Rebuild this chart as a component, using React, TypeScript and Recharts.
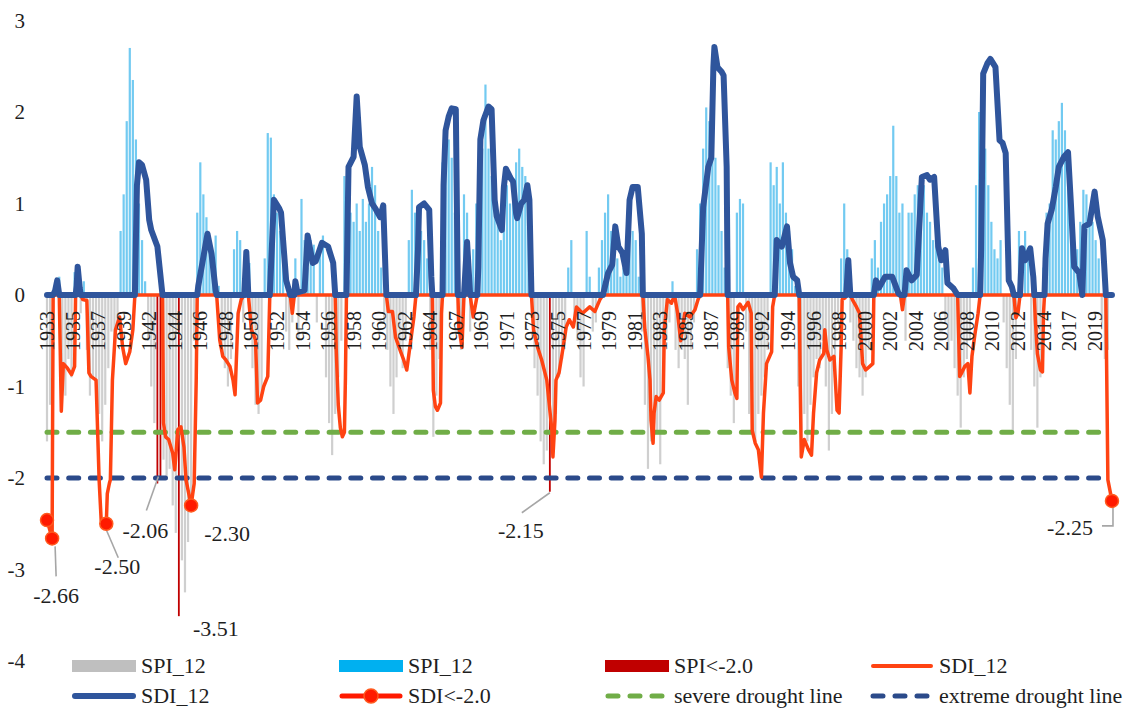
import React from "react";
import {
  ComposedChart,
  Bar,
  Cell,
  Line,
  Scatter,
  XAxis,
  YAxis,
  ReferenceLine,
} from "recharts";

// x axis runs in months from the first tick (1933), one label every 25 months
const yearLabels = [
  "1933", "1935", "1937", "1939", "1942", "1944", "1946", "1948", "1950", "1952",
  "1954", "1956", "1958", "1960", "1962", "1964", "1967", "1969", "1971", "1973",
  "1975", "1977", "1979", "1981", "1983", "1985", "1987", "1989", "1992", "1994",
  "1996", "1998", "2000", "2002", "2004", "2006", "2008", "2010", "2012", "2014",
  "2017", "2019",
];
const yTicks = [-4, -3, -2, -1, 0, 1, 2, 3];

// SPI_12, one value every 3 months
const spiValues = [
  -1.6, -1.2, -0.5, 0.15, 0.2, -0.9, -1.1, -0.7, -0.9, 0.25,
  0.3, -0.2, 0.15, -0.6, -1.1, -0.9, -1.0, -1.3, -1.6, -1.2,
  -0.8, -0.4, -0.6, -0.3, 0.7, 1.1, 1.9, 2.7, 2.35, 1.7,
  1.0, 0.6, 0.15, -0.5, -1.0, -1.4, -2.06, -2.02, -1.8, -2.0,
  -1.9, -2.3, -2.6, -3.51, -2.9, -3.25, -2.7, -2.2, -0.5, 0.9,
  1.45, 1.1, 0.85, 0.5, 0.4, 0.65, 0.1, -0.6, -0.8, -1.0,
  -0.7, 0.5, 0.7, 0.6, -0.3, 0.5, 0.35, -0.8, -1.2, -1.3,
  -1.1, 0.4, 1.77, 1.72, 1.1, 0.9, 0.7, 0.5, -0.4, -0.6,
  -0.3, 0.4, -0.5, 1.05, 0.6, 0.3, 0.6, 0.55, -0.3, 0.5,
  0.65, -0.9, -1.4, -1.75, -1.3, -0.9, -0.5, 1.3, 1.35, 0.9,
  0.8, 1.0, 0.7, 1.05, 0.8, 1.0, 1.4, 1.2, 0.7, 0.3,
  -0.3, -0.6, -1.0, -1.3, -0.9, -0.6, -0.8, -0.5, 0.6, 1.15,
  0.9, 0.5, 0.7, 0.6, 0.4, -0.6, -1.55, -1.1, -0.7, 1.45,
  1.6, 1.7, 1.5, 0.9, -0.4, -0.6, 1.1, 0.9, -0.4, 0.5,
  1.0, 1.3, 1.6, 2.3, 1.6, 1.3, 1.0, 0.8, 0.6, 0.9,
  1.2, 1.0, 1.2, 1.45, 1.6, 1.4, 1.3, 1.0, 0.3, -0.8,
  -1.1, -1.6, -1.85, -1.7, -2.15, -1.6, -1.3, -0.9, -0.7, -0.5,
  0.3, 0.6, -0.3, -0.5, -0.9, -1.0, 0.7, 0.2, -0.4, -0.3,
  0.3, 0.6, 0.9, 1.1, 0.7, 0.5, 0.4, 0.2, 0.3, 0.5,
  0.8, 0.7, 0.6, 0.2, -0.4, -1.2, -1.9, -1.6, -1.4, -1.5,
  -1.85, -1.0, -0.5, -0.3, 0.15, -0.6, -0.8, -0.6, -0.7, -1.2,
  -0.6, -0.3, 0.5, 1.0, 1.6, 2.05, 1.9, 1.7, 1.5, 1.2,
  0.7, 0.3, -0.8, -1.1, -1.4, 0.9, 1.05, 1.0, -0.4, -1.3,
  -1.5, -1.6, -1.3, -1.1, -0.9, -0.6, 1.45, 1.2, 1.4, 1.0,
  1.45, 0.9, 0.7, 0.5, 0.1, -1.0, -1.5, -1.3, -1.6, -1.2,
  -0.9, -0.7, -0.8, -0.5, -1.0, -1.7, -1.3, -0.9, -0.3, 0.4,
  1.0, 0.5, -0.3, -0.5, -0.8, -0.9, -1.1, -0.9, -0.6, 0.4,
  0.6, 0.3, 0.8, 1.0, 1.1, 1.3, 1.85, 1.3, 0.9, 1.0,
  -0.5, 0.9, 0.9, 1.1, 1.2, 1.3, 1.2, 0.9, 0.8, 0.6,
  0.7, 0.5, 0.3, -0.3, -0.6, -0.5, -0.8, -1.1, -1.45, -0.9,
  -0.7, -0.5, 0.3, 1.2, 2.0, 1.9, 1.6, 1.2, 0.8, 0.5,
  0.4, 0.6, -0.3, -0.8, -1.2, -1.5, -0.7, 0.7, 0.5, 0.7,
  0.4, -0.6, -1.0, -1.45, -0.9, 0.3, 0.9, 1.0, 1.8, 1.7,
  1.9, 2.1, 1.8, 1.3, 0.6, 0.3, 0.5, 0.8, 1.15, 1.1,
  0.9, 0.8, 0.6, 0.4, -0.3, -0.7, -0.6,
];
// months whose SPI is drawn as "SPI<-2.0"
const spiExtremeMonths = [108, 111, 129, 492];
const spiLabelledMonths = [108, 129, 492];

// SDI_12 as [month, value]
const sdiPoints: [number, number][] = [
  [0, -2.46], [5, -2.66], [6, 0], [8, 0.05], [10, 0.16], [12, 0],
  [14, -1.27], [16, -0.75], [20, -0.8], [24, -0.87], [27, -0.78], [28, 0],
  [29, 0.1], [30, 0.31], [32, 0.08], [33, 0],
  [35, -0.05], [39, -0.06], [41, -0.85], [43, -0.89], [48, -0.93], [51, -2.02], [53, -2.46],
  [58, -2.5], [59, -2.17], [61, -2.06], [62, -2.02], [64, -0.93], [67, -0.38], [71, -0.24],
  [74, -0.57], [77, -0.75], [81, -0.62], [84, -0.38], [86, 0],
  [88, 1.2], [90, 1.45], [93, 1.42], [97, 1.26], [100, 0.82], [102, 0.71], [105, 0.62], [108, 0.53], [113, 0],
  [114, -1.4], [116, -1.55], [119, -1.58], [123, -1.73], [125, -1.91], [128, -1.47], [131, -1.44],
  [134, -1.66], [136, -2.02], [141, -2.3], [144, -2.06], [146, -0.93], [147, 0],
  [148, 0.1], [152, 0.35], [157, 0.67], [161, 0.45], [165, 0.05], [166, 0],
  [169, -0.49], [172, -0.67], [175, -0.71], [179, -0.78], [182, -0.93], [184, -1.09], [187, -0.2], [190, -0.05], [193, 0],
  [195, 0.47], [197, 0],
  [200, -0.38], [204, -0.49], [206, -1.18], [209, -1.15], [212, -1.0], [216, -0.89], [218, 0],
  [222, 1.04], [227, 0.95], [229, 0.9], [231, 0.6], [234, 0.16], [238, 0],
  [240, -0.2], [242, 0],
  [243, 0.15], [245, 0.03], [252, 0.05], [255, 0.65], [260, 0.35], [263, 0.37], [269, 0.57], [275, 0.53], [280, 0.35], [282, 0],
  [283, -0.6], [285, -1.2], [287, -1.45], [289, -1.55], [291, -1.5], [292, -0.9], [293, 0],
  [295, 1.4], [300, 1.51], [303, 2.17], [306, 1.62], [311, 1.42], [314, 1.18], [318, 1.0], [321, 0.95], [326, 0.85], [329, 0.98], [332, 0],
  [334, -0.18], [338, -0.18], [341, -0.46], [346, -0.62], [349, -0.71], [352, -0.82], [355, -0.57], [359, -0.24], [361, 0],
  [363, 0.5], [364, 0.96], [369, 1.0], [374, 0.93], [376, 0.2], [377, 0],
  [378, -1.04], [380, -1.22], [382, -1.26], [385, -1.18], [386, -0.2], [387, 0],
  [388, 1.2], [390, 1.8], [393, 1.95], [396, 2.04], [400, 2.03], [402, 0],
  [403, -0.35], [406, -0.57], [408, 0],
  [411, 0.58], [414, 0],
  [417, -0.24], [421, 0],
  [422, 0.3], [424, 1.7], [427, 1.91], [432, 2.06], [435, 2.03], [438, 1.04], [440, 0.86], [445, 0.71], [447, 1.18],
  [449, 1.38], [454, 1.27], [456, 1.24], [459, 0.89], [460, 0.84], [464, 1.0], [467, 1.04], [470, 1.2], [472, 1.04], [474, 0],
  [476, -0.38], [480, -0.57], [484, -0.71], [489, -0.93], [494, -1.48], [495, -1.77], [497, -1.37], [498, -0.93],
  [501, -0.85], [505, -0.57], [508, -0.35], [511, -0.27], [515, -0.35], [518, -0.13], [524, -0.2], [531, -0.13],
  [536, -0.18], [541, -0.05], [544, 0],
  [549, 0.24], [553, 0.33], [556, 0.75], [559, 0.53], [563, 0.46], [567, 0.24], [570, 1.04], [573, 1.18], [578, 1.18], [582, 0.67], [583, 0],
  [585, -0.38], [588, -0.67], [590, -0.93], [591, -1.37], [593, -1.62], [594, -1.29], [596, -1.11], [599, -1.15],
  [603, -1.07], [604, -0.38], [607, -0.05], [611, -0.09], [614, 0], [617, -0.2], [620, -0.5], [624, -0.2],
  [629, -0.24], [634, -0.16], [637, -0.05], [639, 0],
  [642, 0.96], [647, 1.4], [650, 1.5], [652, 2.49], [653, 2.71], [656, 2.49], [660, 2.44], [662, 2.4], [665, 1.4], [666, 0],
  [667, -0.57], [670, -0.93], [673, -1.07], [675, -1.13], [676, -0.13], [678, -0.1], [681, -0.16], [686, -0.08],
  [689, -0.2], [690, -1.48], [693, -1.62], [696, -1.69], [699, -1.99], [701, -1.29], [704, -0.75], [709, -0.62], [710, -0.13], [712, 0],
  [714, 0.6], [719, 0.53], [724, 0.75], [727, 0.35], [730, 0.2], [734, 0.16], [736, 0],
  [737, -1.0], [738, -1.77], [741, -1.58], [745, -1.69], [748, -1.75], [750, -1.29], [753, -0.85], [756, -0.71],
  [760, -0.64], [761, -0.38], [763, -0.6], [766, -0.71], [770, -0.67], [773, -1.26], [775, -1.29], [777, -0.57],
  [778, -0.05], [781, -0.03], [782, 0],
  [784, 0.38], [786, 0],
  [788, -0.05], [792, -0.13], [795, -0.2], [798, -0.75], [801, -0.82], [805, -0.78], [808, -0.75], [809, 0],
  [811, 0.16], [814, 0.08], [820, 0.2], [827, 0.2], [833, 0.02], [835, 0],
  [837, -0.16], [839, 0],
  [841, 0.27], [846, 0.16], [851, 0.22], [856, 1.29], [861, 1.31], [864, 1.26], [868, 1.29], [872, 0.53],
  [875, 0.38], [879, 0.49], [881, 0.13], [887, 0.07], [891, 0],
  [893, -0.89], [895, -0.85], [898, -0.78], [901, -0.75], [903, -1.07], [905, -0.67], [908, -0.42], [911, -0.2], [913, 0],
  [914, 0.5], [916, 2.42], [920, 2.53], [923, 2.58], [928, 2.49], [932, 1.69], [935, 1.66], [938, 1.55], [941, 0.16], [944, 0.09], [946, 0],
  [948, -0.25], [950, -0.2], [952, 0],
  [954, 0.51], [957, 0.38], [962, 0.51], [965, 0.2], [966, 0],
  [967, -0.27], [969, -0.64], [972, -0.82], [974, -0.84], [975, -0.2], [976, 0],
  [977, 0.4], [979, 0.78], [983, 0.93], [987, 1.18], [990, 1.4], [995, 1.51], [999, 1.56], [1002, 0.96],
  [1005, 0.31], [1010, 0.24], [1013, 0], [1015, 0.75], [1020, 0.78], [1025, 1.13], [1028, 0.86], [1033, 0.6], [1036, 0],
  [1038, -2.02], [1042, -2.25],
];
// SDI<-2.0 points
const sdiExtremes: [number, number][] = [
  [0, -2.46], [5, -2.66], [58, -2.5], [141, -2.3], [1042, -2.25],
];
const sdiLabelledMonths = [5, 58, 141, 1042];

const severeLevel = -1.5;
const extremeLevel = -2;

const FONT = '"Liberation Serif", "Times New Roman", Times, "DejaVu Serif", serif';
const TEXT = "#1f1f1f";
const C = {
  spiNeg: "#cfcfcf",
  spiPos: "#72caf1",
  spiExt: "#c00000",
  sdiNeg: "#ff4312",
  sdiPos: "#2f559c",
  dot: "#ff1a00",
  dotEdge: "#ff5a1f",
  severe: "#70ad47",
  extreme: "#2b4a8a",
  leader: "#a6a6a6",
};

// chart geometry
const W = 1131;
const H = 709;
const M = { top: 20.5, right: 18, bottom: 47, left: 0 };
const X_AXIS_H = 1;
const plotH = H - M.top - M.bottom - X_AXIS_H;
const zeroY = M.top + (plotH * 3) / 7;
const SPI_BAR_W = 2.2;
const SPI_EXT_W = 1.8;

// callout text / leader offsets (px, relative to the marked point)
const callouts: Record<number, { dx: number; dy: number; leader?: [number, number][] }> = {
  5: { dx: 4, dy: 57, leader: [[3, 8], [4, 38]] },
  58: { dx: 11, dy: 43, leader: [[0, 6], [12, 34]] },
  141: { dx: 36, dy: 28 },
  1042: { dx: -42, dy: 27, leader: [[1, 6], [1, 25], [-10, 25]] },
  108: { dx: -12, dy: 47, leader: [[1, -7], [-11, 27]] },
  129: { dx: 37, dy: 12 },
  492: { dx: -29, dy: 39, leader: [[0, 1], [-28, 21]] },
};

const spiData = spiValues.map((v, i) => ({ m: i * 3, spi: v }));
const sdiData = sdiPoints.map(([m, v]) => ({ m, pos: Math.max(v, 0), neg: Math.min(v, 0) }));
const sdiDotData = sdiExtremes.map(([m, v]) => ({ m, v }));
const spiLabelData = spiData
  .filter((d) => spiLabelledMonths.includes(d.m))
  .map((d) => ({ m: d.m, v: d.spi }));

// the x axis also carries the monthly SDI points, so Recharts' band is one month wide;
// draw each quarterly SPI bar at a fixed width around its own position
const SpiBar = (props: any) => {
  const { x, y, width, height, fill, payload } = props;
  if (!height) return null;
  const w = spiExtremeMonths.includes(payload.m) ? SPI_EXT_W : SPI_BAR_W;
  const cx = x + width / 2;
  const top = height < 0 ? y + height : y;
  return <rect x={cx - w / 2} y={top} width={w} height={Math.abs(height)} fill={fill} />;
};

function Callout({ cx, cy, m, v }: { cx: number; cy: number; m: number; v: number }) {
  const s = callouts[m];
  if (!s) return null;
  return (
    <g>
      {s.leader && (
        <polyline
          points={s.leader.map(([a, b]) => `${cx + a},${cy + b}`).join(" ")}
          fill="none"
          stroke={C.leader}
          strokeWidth={1.6}
        />
      )}
      <text
        x={cx + s.dx}
        y={cy + s.dy}
        textAnchor="middle"
        dominantBaseline="central"
        fontFamily={FONT}
        fontSize={22}
        fill={TEXT}
      >
        {v.toFixed(2)}
      </text>
    </g>
  );
}

const SdiDot = (props: any) => {
  const { cx, cy, payload } = props;
  const labelled = sdiLabelledMonths.includes(payload.m);
  return (
    <g>
      {labelled && <Callout cx={cx} cy={cy} m={payload.m} v={payload.v} />}
      <circle cx={cx} cy={cy} r={6.5} fill={C.dot} stroke={C.dotEdge} strokeWidth={1.5} />
    </g>
  );
};

const SpiLabel = (props: any) => {
  const { cx, cy, payload } = props;
  return <Callout cx={cx} cy={cy} m={payload.m} v={payload.v} />;
};

const YearTick = (props: any) => {
  const { x, payload } = props;
  const label = yearLabels[Math.round(payload.value / 25)];
  return (
    <text
      transform={`translate(${x}, ${zeroY + 16}) rotate(-90)`}
      textAnchor="end"
      dominantBaseline="central"
      fontFamily={FONT}
      fontSize={20}
      fill={TEXT}
    >
      {label}
    </text>
  );
};

const ValueTick = (props: any) => {
  const { x, y, payload } = props;
  return (
    <text x={x} y={y} textAnchor="end" dominantBaseline="central" fontFamily={FONT} fontSize={21} fill={TEXT}>
      {payload.value}
    </text>
  );
};

type LegendIcon = "rect" | "line" | "dotline" | "dash";
const legendItems: { label: string; icon: LegendIcon; color: string; width?: number }[] = [
  { label: "SPI_12", icon: "rect", color: "#bfbfbf" },
  { label: "SPI_12", icon: "rect", color: "#00b0f0" },
  { label: "SPI<-2.0", icon: "rect", color: C.spiExt },
  { label: "SDI_12", icon: "line", color: C.sdiNeg, width: 4 },
  { label: "SDI_12", icon: "line", color: C.sdiPos, width: 6 },
  { label: "SDI<-2.0", icon: "dotline", color: C.dot, width: 5 },
  { label: "severe drought line", icon: "dash", color: C.severe, width: 5 },
  { label: "extreme drought line", icon: "dash", color: C.extreme, width: 5 },
];
const legendCols = [72, 339, 605, 870];
const legendRows = [666, 696];

function Icon({ item }: { item: (typeof legendItems)[number] }) {
  const w = item.width ?? 5;
  return (
    <svg width={64} height={26} style={{ display: "block", flexShrink: 0 }}>
      {item.icon === "rect" && <rect x={0} y={7} width={64} height={12} fill={item.color} />}
      {item.icon === "line" && (
        <line x1={3} x2={61} y1={13} y2={13} stroke={item.color} strokeWidth={w} strokeLinecap="round" />
      )}
      {item.icon === "dotline" && (
        <>
          <line x1={3} x2={61} y1={13} y2={13} stroke={item.color} strokeWidth={w} strokeLinecap="round" />
          <circle cx={32} cy={13} r={7} fill={C.dot} stroke={C.dotEdge} strokeWidth={1.5} />
        </>
      )}
      {item.icon === "dash" && (
        <line
          x1={3}
          x2={61}
          y1={13}
          y2={13}
          stroke={item.color}
          strokeWidth={w}
          strokeDasharray="10 12"
          strokeLinecap="round"
        />
      )}
    </svg>
  );
}

export default function App() {
  return (
    <div style={{ position: "absolute", left: 0, top: 0, width: W, height: H, background: "#fff" }}>
      <ComposedChart width={W} height={H} data={spiData} margin={M}>
        <XAxis
          type="number"
          dataKey="m"
          domain={[0, 1043]}
          ticks={yearLabels.map((_, k) => k * 25)}
          interval={0}
          height={X_AXIS_H}
          axisLine={false}
          tickLine={false}
          tick={<YearTick />}
        />
        <YAxis
          type="number"
          domain={[-4, 3]}
          ticks={yTicks}
          width={47}
          axisLine={false}
          tickLine={false}
          tickSize={0}
          tickMargin={22}
          tick={<ValueTick />}
        />
        <Bar dataKey="spi" shape={<SpiBar />} isAnimationActive={false}>
          {spiData.map((d) => (
            <Cell
              key={d.m}
              fill={spiExtremeMonths.includes(d.m) ? C.spiExt : d.spi > 0 ? C.spiPos : C.spiNeg}
            />
          ))}
        </Bar>
        <ReferenceLine
          segment={[{ x: 0, y: severeLevel }, { x: 1038, y: severeLevel }]}
          stroke={C.severe}
          strokeWidth={5}
          strokeDasharray="10 11.7"
          strokeLinecap="round"
        />
        <ReferenceLine
          segment={[{ x: 0, y: extremeLevel }, { x: 1038, y: extremeLevel }]}
          stroke={C.extreme}
          strokeWidth={5}
          strokeDasharray="10 11.7"
          strokeLinecap="round"
        />
        <Line
          data={sdiData}
          dataKey="neg"
          type="linear"
          stroke={C.sdiNeg}
          strokeWidth={3.5}
          strokeLinejoin="round"
          dot={false}
          activeDot={false}
          isAnimationActive={false}
        />
        <Line
          data={sdiData}
          dataKey="pos"
          type="linear"
          stroke={C.sdiPos}
          strokeWidth={6}
          strokeLinejoin="round"
          strokeLinecap="round"
          dot={false}
          activeDot={false}
          isAnimationActive={false}
        />
        <Scatter data={spiLabelData} dataKey="v" shape={<SpiLabel />} isAnimationActive={false} />
        <Scatter data={sdiDotData} dataKey="v" shape={<SdiDot />} isAnimationActive={false} />
      </ComposedChart>

      {legendItems.map((item, i) => (
        <div
          key={i}
          style={{
            position: "absolute",
            left: legendCols[i % 4],
            top: legendRows[Math.floor(i / 4)] - 13,
            display: "flex",
            alignItems: "center",
            height: 26,
            whiteSpace: "nowrap",
          }}
        >
          <Icon item={item} />
          <span style={{ marginLeft: 5, fontFamily: FONT, fontSize: 22, color: TEXT, lineHeight: "26px" }}>
            {item.label}
          </span>
        </div>
      ))}
    </div>
  );
}
